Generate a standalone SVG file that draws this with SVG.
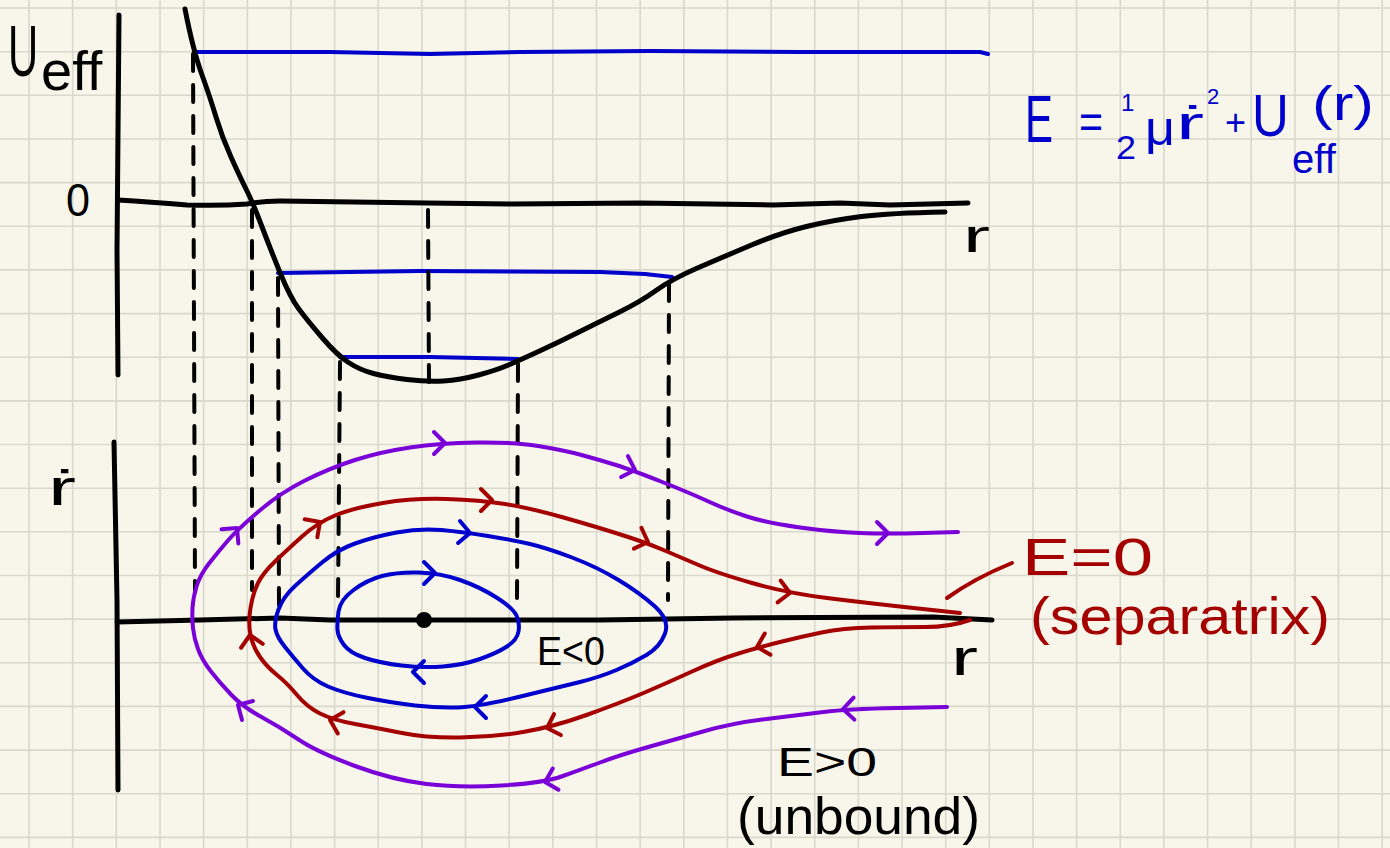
<svg xmlns="http://www.w3.org/2000/svg" width="1390" height="848" viewBox="0 0 1390 848">
<style>
.grid{stroke:#d9d8cc;stroke-width:1.6;fill:none}
.ink{fill:none;stroke-linecap:round;stroke-linejoin:round}
.k{stroke:#000;stroke-width:5}
.dash{stroke:#000;stroke-width:4;stroke-dasharray:17 14;fill:none;stroke-linecap:round}
.b{stroke:#0000cc;stroke-width:4}
.r{stroke:#a50000;stroke-width:4}
.p{stroke:#7a00d8;stroke-width:4}
.t{font-family:"Liberation Sans","DejaVu Sans",sans-serif}
.tk{fill:#000}
.tb{fill:#0000cc}
.tr{fill:#a50000}
</style>
<defs>
<path id="chev" d="M-11,-11 L0,0 L-11,11"/>
</defs>
<rect width="1390" height="848" fill="#f8f6ea"/>
<path class="grid" d="M29,0V848M72.7,0V848M116.3,0V848M160,0V848M203.6,0V848M247.3,0V848M290.9,0V848M334.6,0V848M378.2,0V848M421.9,0V848M465.5,0V848M509.2,0V848M552.8,0V848M596.5,0V848M640.1,0V848M683.8,0V848M727.4,0V848M771.1,0V848M814.7,0V848M858.4,0V848M902,0V848M945.7,0V848M989.3,0V848M1033,0V848M1076.6,0V848M1120.3,0V848M1163.9,0V848M1207.6,0V848M1251.2,0V848M1294.9,0V848M1338.5,0V848M1382.2,0V848M0,8H1390M0,51.7H1390M0,95.3H1390M0,139H1390M0,182.6H1390M0,226.3H1390M0,269.9H1390M0,313.6H1390M0,357.2H1390M0,400.9H1390M0,444.5H1390M0,488.2H1390M0,531.8H1390M0,575.5H1390M0,619.1H1390M0,662.8H1390M0,706.4H1390M0,750.1H1390M0,793.7H1390M0,837.4H1390"/>

<g id="potential-plot">
<path class="ink k" d="M119,15 L117,250 L118,375"/>
<path class="ink k" d="M118,200 Q150,202 187,205 Q220,206 247,204 Q262,201 280,201 L427,203 L513,204 L640,203 L773,205 L840,203 L890,205 L968,203"/>
<path class="ink b" d="M195,52 L330,52 L430,54 L520,52 L650,51 L800,52 L980,52 L988,54"/>
<path class="ink b" d="M278,273 L420,271 L600,272 L645,274 L672,277"/>
<path class="ink b" d="M340,357 L430,357 L518,359"/>
<path class="ink k" d="M185,9 Q193,50 201.5,73.5 Q210,97 216,117 Q222,137 231,157 Q240,177 246.5,190 Q253,203 261.5,225.5 Q270,248 280,272.5 Q290,297 298.5,308.5 Q307,320 322,337.5 Q337,355 348.5,362.5 Q360,370 373.5,373.5 Q387,377 407,379.5 Q427,382 443.5,381 Q460,380 478.5,375 Q497,370 508.5,365 Q520,360 538.5,351.5 Q557,343 577,333 Q597,323 618.5,312.5 Q640,302 656,290.5 Q672,279 697.5,268 Q723,257 751.5,245 Q780,233 806.5,226.5 Q833,220 861.5,216.5 Q890,213 945,212"/>
<text class="t tk" transform="translate(8,76) scale(0.58,1)" font-size="72">U</text>
<text class="t tk" x="41" y="90" font-size="56">eff</text>
<text class="t tk" x="66" y="216" font-size="46" textLength="24" lengthAdjust="spacingAndGlyphs">0</text>
<text class="t tk" x="963" y="252" font-size="46" textLength="27" lengthAdjust="spacingAndGlyphs">r</text>
</g>

<g id="projections">
<path class="dash" d="M193,54 L195,590"/>
<path class="dash" d="M252,210 L252,590"/>
<path class="dash" d="M278,278 L279,612"/>
<path class="dash" d="M340,362 L338,600"/>
<path class="dash" d="M428,210 L429,382"/>
<path class="dash" d="M518,364 L517,600"/>
<path class="dash" d="M669,284 L668,600"/>
</g>

<g id="phase-plot">
<path class="ink k" d="M114,442 L117,600 L118,790"/>
<path class="ink k" d="M117,622 L200,620 L280,618 L330,620 L600,620 L733,618 L933,617 L992,620"/>
<circle cx="424" cy="620" r="8" fill="#000"/>
<text class="t tk" x="48" y="505" font-size="50" textLength="28" lengthAdjust="spacingAndGlyphs">ṙ</text>
<text class="t tk" x="951" y="675" font-size="50" textLength="27" lengthAdjust="spacingAndGlyphs">r</text>
</g>

<g id="orbit-bound-inner">
<path class="ink b" d="M337.5,630 Q337,623 338.5,611.5 Q340,600 353.5,590 Q367,580 382,576 Q397,572 418.5,572.5 Q440,573 460,580 Q480,587 496.5,597.5 Q513,608 516.5,615.5 Q520,623 518.5,631.5 Q517,640 507,646.5 Q497,653 480,659 Q463,665 443,666.5 Q423,668 401.5,665.5 Q380,663 365,658 Q350,653 344,645 Q338,637 337.5,630 Z"/>
<use href="#chev" class="ink b" transform="translate(435,573) rotate(0)"/>
<use href="#chev" class="ink b" transform="translate(413,672) rotate(180)"/>
</g>

<g id="orbit-bound-outer">
<path class="ink b" d="M275.5,629.5 Q274,622 278.5,609.5 Q283,597 295,586 Q307,575 322,562.5 Q337,550 355,543.5 Q373,537 396.5,532.5 Q420,528 441.5,530 Q463,532 488,536 Q513,540 530,544 Q547,548 572,557.5 Q597,567 618.5,580 Q640,593 655,606.5 Q670,620 665,633.5 Q660,647 646.5,655 Q633,663 616.5,670 Q600,677 580,682 Q560,687 518.5,697 Q477,707 457,707.5 Q437,708 415,705.5 Q393,703 368,698 Q343,693 328,686.5 Q313,680 303,668.5 Q293,657 285,647 Q277,637 275.5,629.5 Z"/>
<use href="#chev" class="ink b" transform="translate(470,533) rotate(5)"/>
<use href="#chev" class="ink b" transform="translate(475,707) rotate(180)"/>
<text class="t tk" x="537" y="665" font-size="40" textLength="68" lengthAdjust="spacingAndGlyphs">E&lt;0</text>
</g>

<g id="separatrix">
<path class="ink r" d="M960,613 L913.5,608 Q867,603 827,598 Q787,593 752,583 Q717,573 698.5,565 Q680,557 663.5,550 Q647,543 622,535 Q597,527 563.5,517.5 Q530,508 505,504 Q480,500 446.5,499 Q413,498 383,503 Q353,508 335,515.5 Q317,523 302,536.5 Q287,550 275,561.5 Q263,573 258,583 Q253,593 250.5,608 Q248,623 250.5,635 Q253,647 260,657 Q267,667 277,675 Q287,683 297,695 Q307,707 320,713.5 Q333,720 355,724 Q377,728 402,733 Q427,738 460,737.5 Q493,737 523,732 Q553,727 586.5,715 Q620,703 643.5,693 Q667,683 692,671.5 Q717,660 738.5,653.5 Q760,647 780,642 Q800,637 821.5,632.5 Q843,628 871.5,627.5 Q900,627 925,627 Q950,627 970,620"/>
<use href="#chev" class="ink r" transform="translate(320,522) rotate(-35)"/>
<use href="#chev" class="ink r" transform="translate(492,500) rotate(0)"/>
<use href="#chev" class="ink r" transform="translate(648,542) rotate(20)"/>
<use href="#chev" class="ink r" transform="translate(790,593) rotate(8)"/>
<use href="#chev" class="ink r" transform="translate(250,635) rotate(-100)"/>
<use href="#chev" class="ink r" transform="translate(330,720) rotate(195)"/>
<use href="#chev" class="ink r" transform="translate(547,728) rotate(162)"/>
<use href="#chev" class="ink r" transform="translate(757,647) rotate(165)"/>
<path class="ink r" d="M947,598 Q975,578 1012,563"/>
<text class="t tr" x="1022" y="575" font-size="52" textLength="131" lengthAdjust="spacingAndGlyphs">E=0</text>
<text class="t tr" x="1030" y="634" font-size="52" textLength="300" lengthAdjust="spacingAndGlyphs">(separatrix)</text>
</g>

<g id="orbit-unbound">
<path class="ink p" d="M958,532 L922.5,533 Q887,534 860,533 Q833,532 800,527.5 Q767,523 747,516.5 Q727,510 708.5,501.5 Q690,493 661,481.5 Q632,470 616,465 Q600,460 581.5,455 Q563,450 538,446 Q513,442 476.5,442.5 Q440,443 410,447.5 Q380,452 355,460 Q330,468 305,480.5 Q280,493 258.5,511.5 Q237,530 227.5,541 Q218,552 209,563.5 Q200,575 196.5,586.5 Q193,598 192.5,608 Q192,618 193,628 Q194,638 198,649 Q202,660 211,671.5 Q220,683 231.5,695 Q243,707 261.5,717 Q280,727 298.5,739.5 Q317,752 355,766 Q393,780 426.5,784 Q460,788 501.5,785.5 Q543,783 561.5,776.5 Q580,770 600,762.5 Q620,755 646.5,747.5 Q673,740 703,731.5 Q733,723 766.5,719 Q800,715 823.5,712 Q847,709 897,708 L947,707"/>
<use href="#chev" class="ink p" transform="translate(237,528) rotate(-50)"/>
<use href="#chev" class="ink p" transform="translate(445,443) rotate(0)"/>
<use href="#chev" class="ink p" transform="translate(635,470) rotate(18)"/>
<use href="#chev" class="ink p" transform="translate(888,533) rotate(0)"/>
<use href="#chev" class="ink p" transform="translate(843,709) rotate(178)"/>
<use href="#chev" class="ink p" transform="translate(545,782) rotate(165)"/>
<use href="#chev" class="ink p" transform="translate(238,705) rotate(-150)"/>
<text class="t tk" x="777" y="776" font-size="40" textLength="100" lengthAdjust="spacingAndGlyphs">E&gt;0</text>
<text class="t tk" x="737" y="834" font-size="52" textLength="243" lengthAdjust="spacingAndGlyphs">(unbound)</text>
</g>

<g id="energy-formula">
<text class="t tb" x="1025" y="142" font-size="66" textLength="28" lengthAdjust="spacingAndGlyphs">E</text>
<text class="t tb" x="1079" y="138" font-size="48" textLength="24" lengthAdjust="spacingAndGlyphs">=</text>
<text class="t tb" x="1121" y="111" font-size="24">1</text>
<text class="t tb" x="1116" y="159" font-size="34" textLength="20" lengthAdjust="spacingAndGlyphs">2</text>
<text class="t tb" x="1145" y="145" font-size="48" textLength="30" lengthAdjust="spacingAndGlyphs">μ</text>
<text class="t tb" x="1176" y="139" font-size="46" textLength="28" lengthAdjust="spacingAndGlyphs">ṙ</text>
<text class="t tb" x="1207" y="104" font-size="22">2</text>
<text class="t tb" x="1225" y="135" font-size="36">+</text>
<text class="t tb" transform="translate(1252,136) scale(0.85,1)" font-size="60">U</text>
<text class="t tb" x="1292" y="173" font-size="40">eff</text>
<text class="t tb" x="1312" y="120" font-size="48" textLength="62" lengthAdjust="spacingAndGlyphs">(r)</text>
</g>
</svg>
